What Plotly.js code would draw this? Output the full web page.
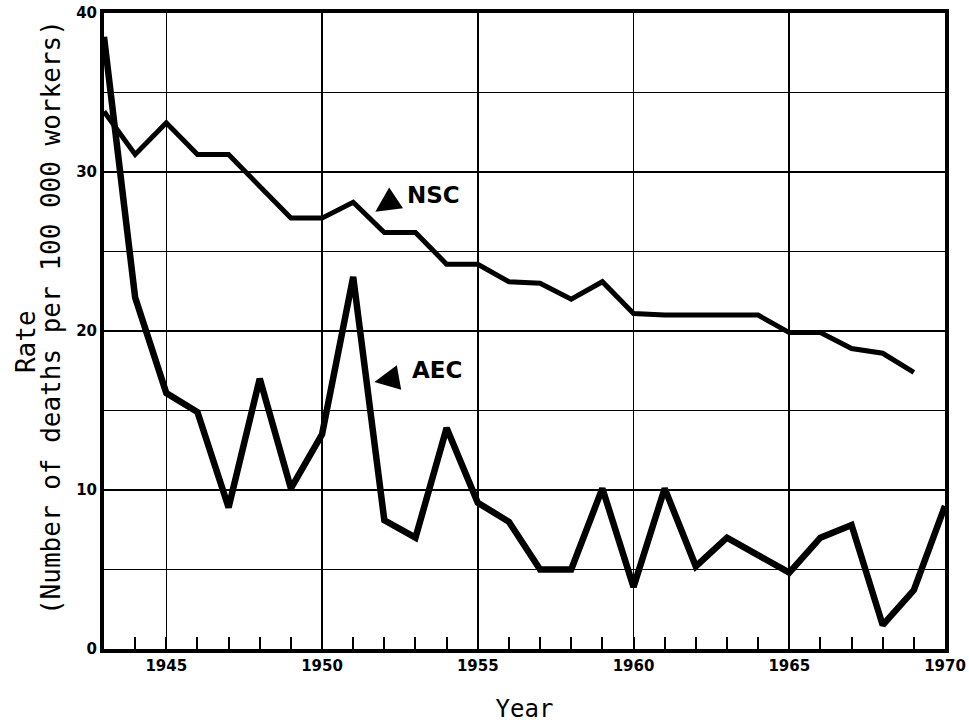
<!DOCTYPE html>
<html>
<head>
<meta charset="utf-8">
<script src="https://cdn.plot.ly/plotly-3.0.1.min.js"></script>
<style>html,body{margin:0;padding:0;background:#fff;}#chart{width:969px;height:723px;}</style>
</head>
<body>
<div id="chart"></div>
<script>
// Years
const yearsAEC = [1943,1944,1945,1946,1947,1948,1949,1950,1951,1952,1953,1954,1955,1956,1957,1958,1959,1960,1961,1962,1963,1964,1965,1966,1967,1968,1969,1970];
const yearsNSC = [1943,1944,1945,1946,1947,1948,1949,1950,1951,1952,1953,1954,1955,1956,1957,1958,1959,1960,1961,1962,1963,1964,1965,1966,1967,1968,1969];
// Death rates per 100 000 workers
const rateAEC = [38.5,22.1,16.1,14.9,8.9,17.0,10.1,13.5,23.4,8.1,7.0,13.9,9.2,8.0,5.0,5.0,10.1,3.9,10.1,5.2,7.0,5.9,4.8,7.0,7.8,1.5,3.7,9.0];
const rateNSC = [33.8,31.1,33.1,31.1,31.1,29.1,27.1,27.1,28.1,26.2,26.2,24.2,24.2,23.1,23.0,22.0,23.1,21.1,21.0,21.0,21.0,21.0,19.9,19.9,18.9,18.6,17.4];
// Tick labels
const xTickVals = [1945,1950,1955,1960,1965,1970];
const xTickText = ['1945','1950','1955','1960','1965','1970'];
const yTickVals = [0,10,20,30,40];
const yTickText = ['0','10','20','30','40'];
// Text
const labelNSC = 'NSC';
const labelAEC = 'AEC';
const xTitle = 'Year';
const yTitle1 = 'Rate';
const yTitle2 = '(Number of deaths per 100 000 workers)';

const traces = [
  {x: yearsNSC, y: rateNSC, type: 'scatter', mode: 'lines', name: labelNSC,
   line: {color: '#000', width: 5}},
  {x: yearsAEC, y: rateAEC, type: 'scatter', mode: 'lines', name: labelAEC,
   line: {color: '#000', width: 6.5}}
];

const tickFont = {family: 'DejaVu Sans', size: 15, color: '#000', weight: 'bold'};
const labFont = {family: 'DejaVu Sans', size: 23, color: '#000', weight: 'bold'};
const titleFont = {family: 'DejaVu Sans Mono', size: 26, color: '#000'};

const layout = {
  width: 969, height: 723,
  margin: {l: 104, r: 24, t: 13, b: 74},
  paper_bgcolor: '#fff', plot_bgcolor: '#fff',
  showlegend: false,
  xaxis: {
    range: [1943, 1970], tickvals: xTickVals, ticktext: xTickText,
    showgrid: true, gridcolor: '#000', gridwidth: 1.6,
    showline: true, mirror: true, linecolor: '#000', linewidth: 4,
    ticks: 'inside', ticklen: 12, tickwidth: 2, tickcolor: '#000',
    minor: {dtick: 1, tick0: 1943, ticks: 'inside', ticklen: 12, tickwidth: 2, tickcolor: '#000', showgrid: false},
    tickfont: tickFont, zeroline: false, automargin: false,
    title: {text: xTitle, font: {family: 'DejaVu Sans Mono', size: 24, color: '#000'}, standoff: 29}
  },
  yaxis: {
    range: [0, 40], tickvals: yTickVals, ticktext: yTickText,
    showgrid: true, gridcolor: '#000', gridwidth: 1.6,
    showline: true, mirror: true, linecolor: '#000', linewidth: 4,
    ticks: '', ticklen: 0,
    minor: {dtick: 5, tick0: 0, showgrid: true, gridcolor: '#000', gridwidth: 1.6, ticks: ''},
    tickfont: tickFont, zeroline: false, automargin: false
  },
  annotations: [
    {xref: 'paper', yref: 'paper', x: -0.0927, y: 0.4827, text: yTitle1, textangle: -90,
     showarrow: false, xanchor: 'center', yanchor: 'middle', font: titleFont},
    {xref: 'paper', yref: 'paper', x: -0.0630, y: 0.5204, text: yTitle2, textangle: -90,
     showarrow: false, xanchor: 'center', yanchor: 'middle', font: titleFont},
    {x: 1951.71, y: 27.5, xref: 'x', yref: 'y', text: '', showarrow: true,
     ax: 15, ay: -10, arrowhead: 2, arrowsize: 1.0, arrowwidth: 5, arrowcolor: '#000'},
    {x: 1952.66, y: 28.55, xref: 'x', yref: 'y', text: labelNSC, showarrow: false,
     xanchor: 'left', yanchor: 'middle', font: labFont},
    {x: 1951.68, y: 16.8, xref: 'x', yref: 'y', text: '', showarrow: true,
     ax: 17, ay: -3, arrowhead: 2, arrowsize: 1.0, arrowwidth: 5, arrowcolor: '#000'},
    {x: 1952.82, y: 17.55, xref: 'x', yref: 'y', text: labelAEC, showarrow: false,
     xanchor: 'left', yanchor: 'middle', font: labFont}
  ]
};

Plotly.newPlot('chart', traces, layout, {staticPlot: true, displayModeBar: false});
</script>
</body>
</html>
